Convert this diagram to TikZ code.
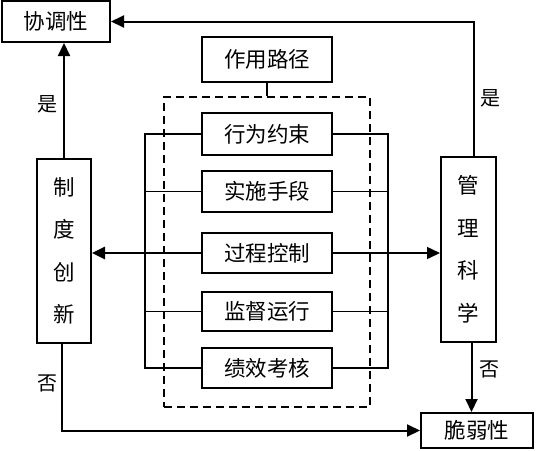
\documentclass[tikz,border=0pt]{standalone}
\usepackage{fontspec}
\setmainfont{Noto Sans CJK SC}
\usetikzlibrary{arrows.meta}
\begin{document}
\begin{tikzpicture}[x=1pt,y=-1pt,
  box/.style={draw, line width=2pt, inner sep=0pt, font=\fontsize{21.5}{24}\selectfont},
  vbox/.style={box, align=center, font=\fontsize{21.5}{42.5}\selectfont},
  lab/.style={inner sep=0pt, font=\fontsize{20}{22}\selectfont},
  conn/.style={line width=2pt, -{Triangle[length=13pt,width=12pt]}},
  thinconn/.style={line width=1.5pt, -{Triangle[length=13pt,width=12pt]}},
  bus/.style={line width=1.5pt},
  dbox/.style={draw, line width=2pt, dash pattern=on 8pt off 5pt, inner sep=0pt}]
\useasboundingbox (0,0) rectangle (537,450);
% nodes
\node[box, minimum width=108pt, minimum height=41pt] (xt) at (56,21.5) {协调性};
\node[box, minimum width=130pt, minimum height=45pt] (zy) at (267,59.5) {作用路径};
\node[dbox, minimum width=206pt, minimum height=310pt] (db) at (267,252) {};
\node[box, minimum width=130pt, minimum height=42pt] (xw) at (267,134) {行为约束};
\node[box, minimum width=130pt, minimum height=41pt] (ss) at (267,191.5) {实施手段};
\node[box, minimum width=130pt, minimum height=40pt] (gk) at (267,253) {过程控制};
\node[box, minimum width=130pt, minimum height=39pt] (jd) at (267,311.5) {监督运行};
\node[box, minimum width=130pt, minimum height=40pt] (jx) at (267,368) {绩效考核};
\node[vbox, minimum width=54pt, minimum height=184pt] (zd) at (64,251) {制\\度\\创\\新};
\node[vbox, minimum width=55pt, minimum height=185pt] (gl) at (468.5,249.5) {管\\理\\科\\学};
\node[box, minimum width=112pt, minimum height=35pt] (cr) at (477,430.5) {脆弱性};
% labels
\node[lab] (l1) at (47,104) {是};
\node[lab] (l2) at (490,98) {是};
\node[lab] (l3) at (489,369) {否};
\node[lab] (l4) at (47,383) {否};
% connector from 作用路径 to dashed box
\draw[line width=2pt] (zy.south) -- (zy.south |- db.north);
% buses
\draw[bus] (xw.west) -- ++(-56,0) coordinate (bl) -- (bl |- jx.west) -- (jx.west);
\draw[bus] (ss.west) -- (bl |- ss.west);
\draw[bus] (jd.west) -- (bl |- jd.west);
\draw[bus] (xw.east) -- ++(55,0) coordinate (br) -- (br |- jx.east) -- (jx.east);
\draw[bus] (ss.east) -- (br |- ss.east);
\draw[bus] (jd.east) -- (br |- jd.east);
% arrows
\draw[conn] (zd.north) -- (zd.north |- xt.south);
\draw[conn] ([xshift=5pt]gl.north) |- (xt.east);
\draw[line width=2.8pt, -{Triangle[length=13pt,width=12pt]}] (gk.west) -- (zd.east |- gk.west);
\draw[thinconn] (gk.east) -- (gl.west |- gk.east);
\draw[conn] ([xshift=3pt]gl.south) -- ([xshift=3pt]gl.south |- cr.north);
\draw[conn] ([xshift=-2pt]zd.south) |- (cr.west);
\end{tikzpicture}
\end{document}
